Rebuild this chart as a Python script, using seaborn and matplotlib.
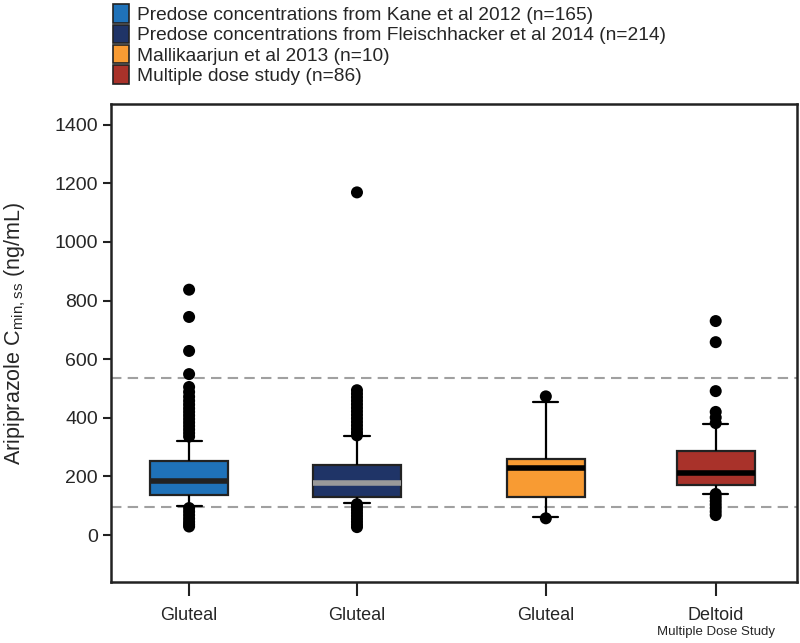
import numpy as np
import pandas as pd
import seaborn as sns
import matplotlib.pyplot as plt
from matplotlib.patches import Patch
import matplotlib.transforms as mtransforms

sns.set_style("ticks")
plt.rcParams['font.family'] = ['Liberation Sans', 'DejaVu Sans']
plt.rcParams['mathtext.fontset'] = 'custom'
plt.rcParams['mathtext.rm'] = 'Liberation Sans'
plt.rcParams['mathtext.default'] = 'regular'

# data
studies = ['Predose concentrations from Kane et al 2012 (n=165)',
           'Predose concentrations from Fleischhacker et al 2014 (n=214)',
           'Mallikaarjun et al 2013 (n=10)',
           'Multiple dose study (n=86)']
sites = ['Gluteal', 'Gluteal', 'Gluteal', 'Deltoid']
site_pos = [1.0, 2.0, 3.125, 4.137]

# lower whisker, Q1, median, Q3, upper whisker
kane_box = [99, 138, 185, 252, 322]
fleisch_box = [108, 130, 178, 240, 337]
malli_box = [62, 130, 227, 260, 453]
multi_box = [140, 169, 210, 287, 378]

kane_out = [837, 744, 628, 549, 505, 488, 472, 458, 445, 432, 420, 408, 396,
            384, 372, 360, 348, 336, 92, 80, 68, 56, 45, 36, 29]
fleisch_out = [1169, 494, 482, 470, 458, 446, 434, 422, 410, 398, 386, 374,
               362, 350, 340, 105, 95, 85, 75, 65, 55, 45, 35, 27]
malli_out = [473, 57]
multi_out = [730, 658, 491, 420, 401, 382, 140, 128, 116, 104, 92, 80, 68]

ref_lines = [535, 95]

boxes = [kane_box, fleisch_box, malli_box, multi_box]
outs = [kane_out, fleisch_out, malli_out, multi_out]
colors = ['#1f72b9', '#1f3467', '#f89b33', '#a9322a']
median_colors = ['#222222', '#9a9a9a', '#000000', '#000000']
box_widths = [0.465, 0.52, 0.465, 0.465]

fig = plt.figure(figsize=(8, 6.43), dpi=100)
ax = fig.add_axes([0.139, 0.095, 0.857, 0.743])

for v in ref_lines:
    ax.axhline(v, color='#a0a0a0', lw=1.5, ls=(0, (5, 3)), zorder=0)

for i in range(4):
    d = pd.DataFrame({'pos': [site_pos[i]] * len(boxes[i]), 'val': boxes[i]})
    sns.boxplot(data=d, x='pos', y='val', native_scale=True, whis=(0, 100),
                width=box_widths[i], color=colors[i], saturation=1,
                linecolor='#222222', linewidth=1.6,
                medianprops=dict(color=median_colors[i], linewidth=4),
                whiskerprops=dict(color='black'), capprops=dict(color='black'),
                capwidths=0.15, ax=ax)

fx, fy = [], []
for i in range(4):
    fx += [site_pos[i]] * len(outs[i])
    fy += outs[i]
sns.scatterplot(x=fx, y=fy, color='black', s=75, edgecolor='none',
                zorder=5, legend=False, ax=ax)

ax.set_xlim(0.536, 4.62)
ax.set_ylim(-160, 1470)
ax.set_yticks(range(0, 1401, 200))
ax.set_xticks(site_pos)
ax.set_xticklabels(sites, fontsize=13)
ax.tick_params(axis='y', labelsize=14, length=6, width=1.5, color='#222222')
ax.tick_params(axis='x', length=10, width=1.5, color='#222222', pad=8)
ax.set_xlabel('')
ax.set_ylabel('Aripiprazole C$_{min,ss}$ (ng/mL)', fontsize=15.5)
ax.yaxis.set_label_coords(-0.121, 0.52)
for s in ax.spines.values():
    s.set_visible(True)
    s.set_linewidth(1.8)
    s.set_color('#222222')

trans = mtransforms.blended_transform_factory(ax.transData, ax.transAxes)
ax.annotate('Multiple Dose Study', xy=(site_pos[3], 0), xycoords=trans,
            xytext=(0, -32), textcoords='offset points', ha='center',
            va='top', fontsize=9.5)

handles = [Patch(facecolor=c, edgecolor='#222222', lw=1.2) for c in colors]
fig.legend(handles, studies, loc='upper left', bbox_to_anchor=(0.132, 1.005),
           frameon=False, fontsize=13.8, handlelength=0.8, handleheight=1.1,
           handletextpad=0.45, labelspacing=0.03, borderaxespad=0)

fig.savefig('out.png', dpi=100)
